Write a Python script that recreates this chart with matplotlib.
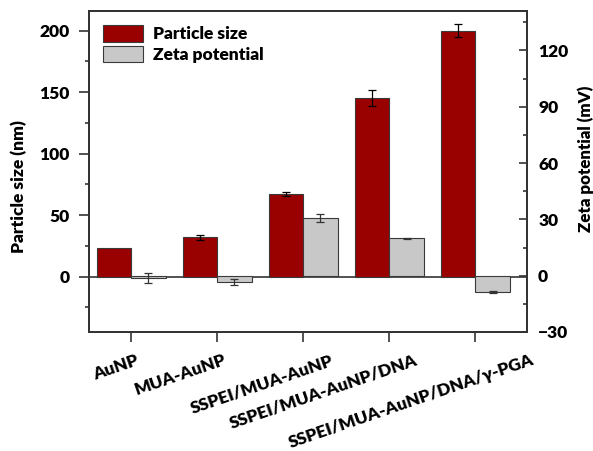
import numpy as np
import matplotlib
matplotlib.use('Agg')
from matplotlib import pyplot as plt
from matplotlib.ticker import MultipleLocator
from matplotlib.transforms import ScaledTranslation

# Data
categories = ['AuNP', 'MUA-AuNP', 'SSPEI/MUA-AuNP', 'SSPEI/MUA-AuNP/DNA',
              'SSPEI/MUA-AuNP/DNA/\u03b3-PGA']
size_nm = [23.5, 32, 67, 145, 200]
size_err = [0, 1.8, 1.5, 6.5, 5.5]
zeta_mv = [-1.2, -3.3, 30.8, 19.9, -8.8]
zeta_err = [2.6, 1.8, 2.0, 0.3, 0.5]

# horizontal nudge of each category label (pixels), layout only
label_dx = [4, 6, 27, 25, 55]

plt.rcParams['font.family'] = ['Lato', 'DejaVu Sans']
plt.rcParams['font.weight'] = 'heavy'
fs = 12.5
fw = 'heavy'

fig = plt.figure(figsize=(5.93, 4.51), dpi=100)
ax = fig.add_axes([89 / 593, 1 - 332 / 451, (527 - 89) / 593, (332 - 11) / 451])
ax2 = ax.twinx()

x = np.arange(len(categories))
w = 0.4
red = '#990000'
grey = '#c8c8c8'
edge = '#3a3a3a'

b1 = ax.bar(x - w / 2, size_nm, w, color=red, edgecolor=edge, linewidth=0.8,
            label='Particle size', zorder=3)
se = np.array(size_err)
m = se > 0
ax.errorbar((x - w / 2)[m], np.array(size_nm)[m], yerr=se[m], fmt='none',
            ecolor='black', elinewidth=0.9, capsize=3, capthick=0.9, zorder=4)
b2 = ax2.bar(x + w / 2, zeta_mv, w, color=grey, edgecolor=edge, linewidth=0.8,
             label='Zeta potential', zorder=3)
ax2.errorbar(x + w / 2, zeta_mv, yerr=zeta_err, fmt='none', ecolor='#333333',
             elinewidth=0.9, capsize=3, capthick=0.9, zorder=4)

ax.axhline(0, color='#333333', linewidth=1.2, zorder=2)

ax.set_xlim(-0.49, 4.6)
ax.set_ylim(-45, 216)
ax2.set_ylim(-30, 141)

ax.yaxis.set_minor_locator(MultipleLocator(25))
ax2.yaxis.set_minor_locator(MultipleLocator(15))
ax.set_yticks([0, 50, 100, 150, 200])
ax2.set_yticks([-30, 0, 30, 60, 90, 120])

# category labels drawn as rotated texts under each tick
ax.set_xticks(x)
ax.set_xticklabels([])
for i, (lab, dx) in enumerate(zip(categories, label_dx)):
    tr = ax.get_xaxis_transform() + ScaledTranslation(dx / 100, -0.20, fig.dpi_scale_trans)
    ax.text(i, 0, lab, transform=tr, rotation=19, ha='right', va='top',
            rotation_mode='anchor', fontsize=fs, fontweight=fw)

for a in (ax, ax2):
    for s in a.spines.values():
        s.set_color('#333333')
        s.set_linewidth(1.3)
ax.tick_params(axis='y', which='major', length=7, width=1.2, color='#333333',
               labelsize=fs, pad=7)
ax.tick_params(axis='y', which='minor', length=3, width=1.2, color='#333333')
ax.tick_params(axis='x', which='major', length=7, width=1.2, color='#333333')
ax2.tick_params(axis='y', which='major', direction='in', length=6, width=1.2,
                color='#333333', labelsize=fs, pad=8)
ax2.tick_params(axis='y', which='minor', direction='in', length=3, width=1.2,
                color='#333333')
for lab in ax.get_yticklabels() + ax2.get_yticklabels():
    lab.set_fontweight(fw)

ax.set_ylabel('Particle size (nm)', fontsize=fs, fontweight=fw)
ax.yaxis.set_label_coords(-0.141, 0.452)
ax2.set_ylabel('Zeta potential (mV)', fontsize=12.2, fontweight=fw)
ax2.yaxis.set_label_coords(1.116, 0.539)

ax.legend(handles=[b1, b2], loc='upper left', frameon=False,
          prop={'size': fs, 'weight': fw}, handlelength=2.3, handleheight=1.1,
          borderaxespad=0.6, borderpad=0.2, handletextpad=0.6, labelspacing=0.2)

fig.savefig('out.png', dpi=100)
